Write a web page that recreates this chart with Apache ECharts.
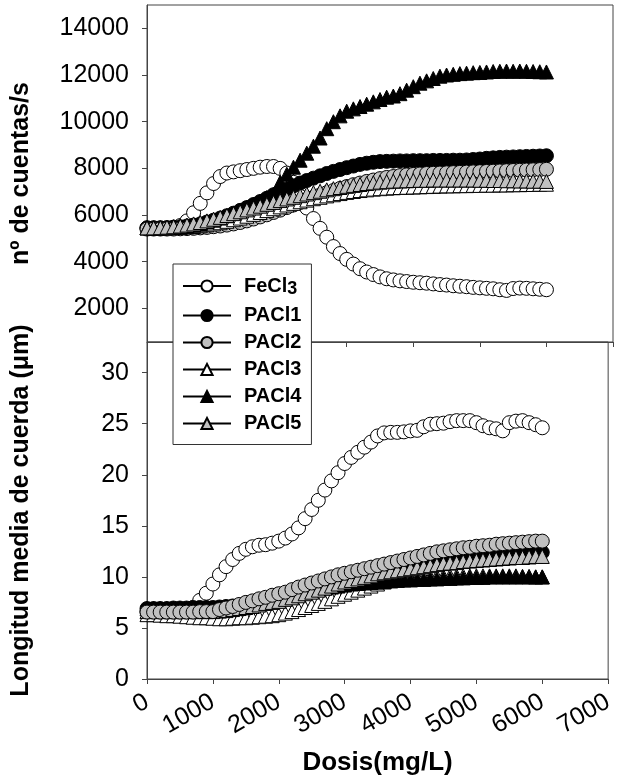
<!DOCTYPE html>
<html><head><meta charset="utf-8">
<script src="https://cdn.jsdelivr.net/npm/echarts@6/dist/echarts.min.js"></script>
<style>html,body{margin:0;padding:0;background:#fff}#c{width:617px;height:780px}</style>
</head><body><div id="c"></div>
<script>
// Dose (mg/L)
const dose = [0,100,200,300,400,500,600,700,800,900,1000,1100,1200,1300,1400,1500,1600,1700,1800,1900,2000,2100,2200,2300,2400,2500,2600,2700,2800,2900,3000,3100,3200,3300,3400,3500,3600,3700,3800,3900,4000,4100,4200,4300,4400,4500,4600,4700,4800,4900,5000,5100,5200,5300,5400,5500,5600,5700,5800,5900,6000];
const seriesNames = ['FeCl3','PACl1','PACl2','PACl3','PACl4','PACl5'];
const xTicks = [0,1000,2000,3000,4000,5000,6000,7000];
const countTicks = [2000,4000,6000,8000,10000,12000,14000];
const chordTicks = [0,5,10,15,20,25,30];

// Top panel: nº de cuentas/s
const fecl3Counts = [5450,5450,5450,5450,5480,5550,5750,6100,6500,6950,7350,7650,7800,7850,7900,7950,8000,8050,8080,8080,8000,7800,7400,6800,6300,5850,5430,5050,4650,4350,4100,3900,3700,3560,3450,3350,3270,3220,3180,3150,3120,3100,3080,3050,3020,3000,2970,2950,2930,2900,2880,2860,2840,2800,2770,2850,2870,2860,2840,2820,2800];
const pacl1Counts = [5450,5450,5450,5460,5480,5500,5530,5570,5620,5700,5780,5870,5970,6080,6200,6320,6450,6580,6720,6870,7000,7120,7250,7370,7480,7580,7680,7780,7870,7950,8030,8100,8170,8220,8260,8290,8300,8310,8320,8320,8330,8330,8330,8340,8340,8340,8350,8350,8360,8380,8400,8430,8450,8470,8480,8490,8500,8510,8520,8530,8540];
const pacl2Counts = [5400,5400,5400,5400,5400,5410,5420,5430,5450,5470,5500,5530,5570,5620,5680,5750,5830,5920,6010,6110,6210,6320,6430,6540,6650,6760,6860,6960,7050,7140,7220,7300,7370,7440,7500,7560,7610,7650,7690,7720,7740,7760,7780,7790,7800,7810,7820,7830,7840,7850,7860,7870,7880,7890,7900,7910,7920,7930,7940,7950,7960];
const pacl3Counts = [5450,5450,5450,5450,5460,5470,5490,5510,5540,5580,5620,5670,5730,5800,5870,5950,6030,6110,6190,6270,6350,6430,6500,6570,6640,6700,6760,6820,6870,6920,6970,7010,7050,7080,7110,7130,7150,7170,7180,7190,7200,7210,7220,7230,7240,7250,7250,7260,7260,7270,7270,7280,7280,7290,7290,7300,7300,7310,7310,7320,7320];
const pacl4Counts = [5450,5450,5450,5460,5480,5500,5530,5570,5620,5700,5780,5870,5970,6080,6200,6330,6460,6600,6750,6900,7400,7750,8050,8350,8650,8950,9300,9700,10000,10250,10450,10550,10650,10750,10850,10950,11050,11100,11200,11350,11500,11650,11750,11850,11950,12000,12030,12060,12080,12100,12110,12130,12150,12160,12170,12160,12170,12160,12150,12140,12130];
const pacl5Counts = [5450,5450,5460,5480,5500,5530,5570,5620,5680,5750,5820,5900,5980,6060,6140,6220,6300,6380,6460,6540,6620,6690,6760,6830,6900,6960,7020,7080,7130,7180,7230,7270,7310,7350,7380,7410,7430,7450,7460,7470,7480,7490,7490,7500,7500,7500,7500,7500,7500,7500,7490,7490,7480,7480,7470,7470,7460,7460,7450,7450,7440];

// Bottom panel: Longitud media de cuerda (μm)
const fecl3Chord = [6.6,6.6,6.6,6.6,6.6,6.6,6.7,7.0,7.7,8.4,9.3,10.2,11.0,11.7,12.3,12.7,12.95,13.1,13.15,13.3,13.5,13.8,14.2,14.8,15.7,16.6,17.5,18.5,19.4,20.2,21.1,21.7,22.2,22.7,23.2,23.8,24.1,24.15,24.15,24.2,24.3,24.35,24.7,24.95,25.0,25.05,25.2,25.3,25.3,25.3,25.1,24.8,24.6,24.5,24.3,25.1,25.25,25.3,25.1,24.9,24.6];
const pacl1Chord = [6.9,6.9,6.9,6.9,6.95,6.95,6.95,7.0,7.0,7.0,7.0,7.05,7.1,7.15,7.2,7.3,7.4,7.55,7.7,7.85,8.0,8.2,8.4,8.6,8.8,9.0,9.15,9.3,9.45,9.6,9.75,9.9,10.0,10.15,10.3,10.4,10.5,10.6,10.7,10.8,10.9,11.0,11.1,11.2,11.3,11.4,11.5,11.55,11.65,11.75,11.8,11.9,11.95,12.0,12.1,12.15,12.2,12.25,12.3,12.35,12.4];
const pacl2Chord = [6.55,6.55,6.55,6.55,6.55,6.55,6.55,6.55,6.6,6.6,6.6,6.8,6.95,7.1,7.3,7.5,7.65,7.85,8.0,8.2,8.35,8.5,8.75,9.0,9.2,9.4,9.6,9.8,10.0,10.2,10.35,10.5,10.65,10.8,10.95,11.1,11.25,11.4,11.55,11.7,11.85,12.0,12.15,12.3,12.45,12.55,12.65,12.75,12.85,12.9,13.0,13.05,13.1,13.2,13.25,13.3,13.35,13.4,13.45,13.5,13.5];
const pacl3Chord = [6.3,6.3,6.25,6.2,6.2,6.15,6.1,6.05,6.0,6.0,5.95,5.9,5.9,5.95,6.0,6.0,6.05,6.1,6.15,6.2,6.3,6.45,6.6,6.8,7.0,7.2,7.4,7.6,7.85,8.1,8.3,8.5,8.7,8.9,9.1,9.3,9.5,9.65,9.75,9.85,9.9,9.95,10.0,10.0,10.05,10.05,10.1,10.1,10.1,10.1,10.1,10.1,10.1,10.1,10.1,10.1,10.1,10.05,10.05,10.0,10.0];
const pacl4Chord = [6.9,6.9,6.9,6.9,6.9,6.9,6.9,6.9,6.9,6.9,6.95,6.95,7.0,7.05,7.1,7.2,7.3,7.4,7.55,7.7,7.85,8.0,8.15,8.3,8.45,8.6,8.75,8.9,9.0,9.1,9.2,9.3,9.35,9.4,9.45,9.5,9.55,9.6,9.65,9.7,9.7,9.75,9.75,9.8,9.8,9.85,9.85,9.9,9.9,9.95,9.95,9.95,10.0,10.0,10.0,10.0,10.0,10.0,10.0,10.0,10.0];
const pacl5Chord = [6.6,6.6,6.6,6.6,6.6,6.6,6.6,6.6,6.6,6.6,6.6,6.65,6.7,6.8,6.9,7.0,7.1,7.25,7.4,7.5,7.6,7.8,7.95,8.15,8.35,8.5,8.7,8.9,9.1,9.3,9.5,9.65,9.8,9.95,10.1,10.3,10.4,10.5,10.6,10.7,10.8,10.9,11.0,11.1,11.2,11.3,11.35,11.4,11.5,11.55,11.6,11.65,11.7,11.75,11.8,11.85,11.9,11.9,11.95,12.0,12.0];

const FONT = '"Liberation Sans", Arial, Helvetica, sans-serif';
const AX = '#444';
const look = {
  'FeCl3': {symbol:'circle', fill:'#ffffff'},
  'PACl1': {symbol:'circle', fill:'#000000'},
  'PACl2': {symbol:'circle', fill:'#c0c0c0'},
  'PACl3': {symbol:'triangle', fill:'#ffffff'},
  'PACl4': {symbol:'triangle', fill:'#000000'},
  'PACl5': {symbol:'triangle', fill:'#c0c0c0'}
};
function mk(name, vals, idx, z) {
  const L = look[name];
  return {
    name: name, type: 'line', xAxisIndex: idx, yAxisIndex: idx,
    data: dose.map((d, i) => [d, vals[i]]),
    symbol: L.symbol, symbolSize: 14, showAllSymbol: true,
    itemStyle: {color: L.fill, borderColor: '#000', borderWidth: 1},
    lineStyle: {color: '#000', width: 1},
    emphasis: {disabled: true}, silent: true, z: z || 2, animation: false
  };
}
const topVals = [fecl3Counts, pacl1Counts, pacl2Counts, pacl3Counts, pacl4Counts, pacl5Counts];
const botVals = [fecl3Chord, pacl1Chord, pacl2Chord, pacl3Chord, pacl4Chord, pacl5Chord];
const series = [];
seriesNames.forEach((n, i) => series.push(mk(n, topVals[i], 0)));
seriesNames.forEach((n, i) => series.push(mk(n, botVals[i], 1, n === 'PACl2' ? 3 : 2)));

const plain = v => String(v);
const tickLabel = {color: '#000', fontFamily: FONT, fontSize: 25, formatter: plain};
const yNameStyle = {color: '#000', fontFamily: FONT, fontSize: 25, fontWeight: 'bold'};
const xNameStyle = {color: '#000', fontFamily: FONT, fontSize: 26, fontWeight: 'bold'};

const option = {
  backgroundColor: '#fff',
  animation: false,
  grid: [
    {left: 147, right: 4, top: 5, height: 337, show: true, borderColor: AX, borderWidth: 1, backgroundColor: 'transparent'},
    {left: 147, right: 4, top: 342, height: 337, show: true, borderColor: AX, borderWidth: 1, backgroundColor: 'transparent'}
  ],
  xAxis: [
    {gridIndex: 0, type: 'value', min: 0, max: 7000, interval: 1000,
     axisLine: {show: true, lineStyle: {color: AX}}, axisTick: {show: true, length: 5, lineStyle: {color: AX}},
     axisLabel: {show: false}, splitLine: {show: false}},
    {gridIndex: 1, type: 'value', min: 0, max: 7000, interval: 1000,
     axisLine: {show: true, lineStyle: {color: AX}}, axisTick: {show: true, length: 5, lineStyle: {color: AX}},
     axisLabel: Object.assign({rotate: 30, margin: 21, customValues: xTicks, showMaxLabel: true}, tickLabel),
     splitLine: {show: false},
     name: 'Dosis(mg/L)', nameLocation: 'middle', nameGap: 71, nameTextStyle: xNameStyle}
  ],
  yAxis: [
    {gridIndex: 0, type: 'value', min: 560, max: 15000,
     axisLine: {show: true, lineStyle: {color: AX}},
     axisTick: {show: true, length: 5, lineStyle: {color: AX}, customValues: countTicks},
     axisLabel: Object.assign({margin: 18, customValues: countTicks}, tickLabel),
     splitLine: {show: false},
     name: 'nº de cuentas/s', nameLocation: 'middle', nameRotate: 90, nameGap: 113, nameTextStyle: yNameStyle},
    {gridIndex: 1, type: 'value', min: 0, max: 33,
     axisLine: {show: true, lineStyle: {color: AX}},
     axisTick: {show: true, length: 5, lineStyle: {color: AX}, customValues: chordTicks},
     axisLabel: Object.assign({margin: 18, customValues: chordTicks}, tickLabel),
     splitLine: {show: false},
     name: 'Longitud media de cuerda (μm)', nameLocation: 'middle', nameRotate: 90, nameGap: 113, nameTextStyle: yNameStyle}
  ],
  legend: {
    data: seriesNames, orient: 'vertical', left: 173, top: 264,
    itemWidth: 48, itemHeight: 14, itemGap: 7,
    padding: [12, 10, 11, 9], backgroundColor: '#fff', borderColor: '#333', borderWidth: 1,
    selectedMode: false, z: 10,
    formatter: n => n === 'FeCl3' ? 'FeCl{s|3}' : n,
    textStyle: {color: '#000', fontFamily: FONT, fontSize: 20, fontWeight: 'bold', lineHeight: 20, padding: [0, 0, 0, 8],
      rich: {s: {color: '#000', fontFamily: FONT, fontSize: 18, fontWeight: 'bold', padding: [7, 0, 0, 0]}}}
  },
  series: series
};
const chart = echarts.init(document.getElementById('c'));
chart.setOption(option);
</script>
</body></html>
